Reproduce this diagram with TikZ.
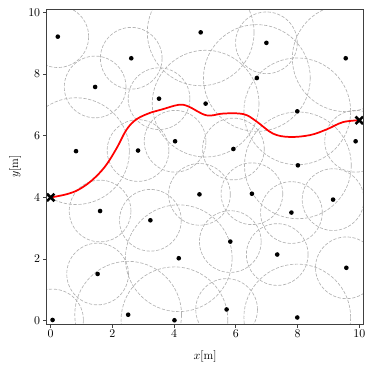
\documentclass[tikz,border=0pt]{standalone}
\usepackage{tikz}

\begin{document}
\begin{tikzpicture}[
  zone/.style={draw=black!30, dash pattern=on 3pt off 1.5pt, line width=0.6pt},
  obstacle/.style={fill=black},
  route/.style={draw=red, line width=1.6pt, line join=round, line cap=round},
  spine/.style={draw=black!75, line width=0.8pt},
  axtick/.style={draw=black!75, line width=0.8pt},
  endpoint/.style={draw=black, line width=2.4pt},
  ticklabel/.style={font=\fontsize{11}{13}\selectfont, inner sep=1pt},
  axlabel/.style={font=\fontsize{11}{13}\selectfont, inner sep=1pt}
]
\useasboundingbox (-1.643,-1.587) rectangle (10.476,10.398);

% safety zones round the obstacles
\begin{scope}
  \clip (-0.13,-0.10) rectangle (10.14,10.10);
  \foreach \px/\py/\r in {0.23/9.21/1.0, 2.61/8.51/1.0, 1.44/7.58/1.0, 3.51/7.20/1.0,
      0.82/5.50/1.73, 2.83/5.52/1.0, 4.03/5.82/1.0, 4.86/9.35/1.73, 6.99/9.01/1.0,
      6.68/7.87/1.73, 5.02/7.04/1.73, 9.56/8.51/1.73, 7.99/6.79/1.73, 5.92/5.57/1.0,
      9.88/5.82/1.0, 8.01/5.04/1.73, 1.60/3.56/1.0, 3.23/3.26/1.0, 4.15/2.03/1.73,
      1.52/1.52/1.0, 0.06/0.03/1.0, 2.51/0.20/1.73, 4.01/0.02/1.73, 4.82/4.10/1.0,
      6.52/4.12/1.0, 9.15/3.93/1.0, 7.80/3.51/1.0, 5.82/2.57/1.0, 7.34/2.15/1.0,
      9.58/1.72/1.0, 5.70/0.37/1.0, 7.99/0.11/1.73}
    \draw[zone] (\px,\py) circle (\r);
\end{scope}

% obstacles
\foreach \px/\py in {0.23/9.21, 2.61/8.51, 1.44/7.58, 3.51/7.20, 0.82/5.50, 2.83/5.52,
    4.03/5.82, 4.86/9.35, 6.99/9.01, 6.68/7.87, 5.02/7.04, 9.56/8.51, 7.99/6.79,
    5.92/5.57, 9.88/5.82, 8.01/5.04, 1.60/3.56, 3.23/3.26, 4.15/2.03, 1.52/1.52,
    0.06/0.03, 2.51/0.20, 4.01/0.02, 4.82/4.10, 6.52/4.12, 9.15/3.93, 7.80/3.51,
    5.82/2.57, 7.34/2.15, 9.58/1.72, 5.70/0.37, 7.99/0.11}
  \fill[obstacle] (\px,\py) circle (0.075);

% planned route
\coordinate (start) at (0,4);
\coordinate (goal) at (10,6.5);
\draw[route] plot[smooth, tension=0.6] coordinates {(0,4) (0.5,4.1) (0.9,4.25)
  (1.33,4.55) (1.76,5.0) (2.14,5.6) (2.46,6.2) (2.79,6.54) (3.27,6.76) (3.6,6.85)
  (4.14,7.0) (4.46,6.95) (5.05,6.66) (5.6,6.72) (6.25,6.7) (6.66,6.47) (7.2,6.07)
  (7.74,5.96) (8.4,6.02) (8.93,6.2) (9.47,6.44) (10,6.5)};

% start and goal
\foreach \pt in {start,goal} {
  \draw[endpoint] ([shift={(-0.12,-0.12)}]\pt) -- ([shift={(0.12,0.12)}]\pt);
  \draw[endpoint] ([shift={(-0.12,0.12)}]\pt) -- ([shift={(0.12,-0.12)}]\pt);
}

% axes
\draw[spine] (-0.13,-0.10) rectangle (10.14,10.10);
\foreach \v in {0,2,...,10} {
  \draw[axtick] (\v,-0.10) -- (\v,-0.23);
  \node[ticklabel, anchor=north] (xt\v) at (\v,-0.25) {$\v$};
  \draw[axtick] (-0.13,\v) -- (-0.26,\v);
  \node[ticklabel, anchor=east] (yt\v) at (-0.30,\v) {$\v$};
}
\node[axlabel] (xlab) at (5,-1.16) {$x$[m]};
\node[axlabel, rotate=90] (ylab) at (-1.15,5) {$y$[m]};
\end{tikzpicture}
\end{document}
